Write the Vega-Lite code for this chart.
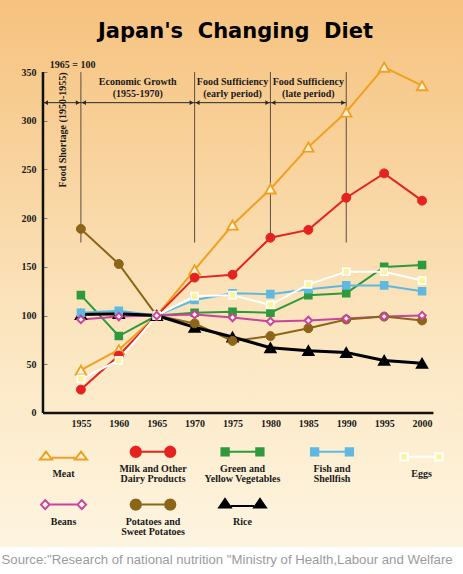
{
  "$schema": "https://vega.github.io/schema/vega-lite/v6.json",
  "width": 463,
  "height": 574,
  "autosize": {"type": "none"},
  "padding": 0,
  "title": {"text": "Japan's\u00a0\u00a0Changing\u00a0\u00a0Diet", "font": "DejaVu Sans", "fontSize": 21, "fontWeight": "bold", "color": "#000000", "anchor": "middle", "frame": "group", "offset": -59, "baseline": "alphabetic", "dx": 4},
  "datasets": {
    "diet": [
      {"food": "Meat", "year": 1955, "value": 44}, {"food": "Meat", "year": 1960, "value": 65}, {"food": "Meat", "year": 1965, "value": 100}, {"food": "Meat", "year": 1970, "value": 147}, {"food": "Meat", "year": 1975, "value": 193}, {"food": "Meat", "year": 1980, "value": 230}, {"food": "Meat", "year": 1985, "value": 273}, {"food": "Meat", "year": 1990, "value": 309}, {"food": "Meat", "year": 1995, "value": 355}, {"food": "Meat", "year": 2000, "value": 336},
      {"food": "Milk and Other Dairy Products", "year": 1955, "value": 24}, {"food": "Milk and Other Dairy Products", "year": 1960, "value": 59}, {"food": "Milk and Other Dairy Products", "year": 1965, "value": 100}, {"food": "Milk and Other Dairy Products", "year": 1970, "value": 139}, {"food": "Milk and Other Dairy Products", "year": 1975, "value": 142}, {"food": "Milk and Other Dairy Products", "year": 1980, "value": 180}, {"food": "Milk and Other Dairy Products", "year": 1985, "value": 188}, {"food": "Milk and Other Dairy Products", "year": 1990, "value": 221}, {"food": "Milk and Other Dairy Products", "year": 1995, "value": 246}, {"food": "Milk and Other Dairy Products", "year": 2000, "value": 218},
      {"food": "Green and Yellow Vegetables", "year": 1955, "value": 121}, {"food": "Green and Yellow Vegetables", "year": 1960, "value": 79}, {"food": "Green and Yellow Vegetables", "year": 1965, "value": 100}, {"food": "Green and Yellow Vegetables", "year": 1970, "value": 103}, {"food": "Green and Yellow Vegetables", "year": 1975, "value": 104}, {"food": "Green and Yellow Vegetables", "year": 1980, "value": 103}, {"food": "Green and Yellow Vegetables", "year": 1985, "value": 121}, {"food": "Green and Yellow Vegetables", "year": 1990, "value": 123}, {"food": "Green and Yellow Vegetables", "year": 1995, "value": 150}, {"food": "Green and Yellow Vegetables", "year": 2000, "value": 152},
      {"food": "Fish and Shellfish", "year": 1955, "value": 103}, {"food": "Fish and Shellfish", "year": 1960, "value": 105}, {"food": "Fish and Shellfish", "year": 1965, "value": 100}, {"food": "Fish and Shellfish", "year": 1970, "value": 116}, {"food": "Fish and Shellfish", "year": 1975, "value": 123}, {"food": "Fish and Shellfish", "year": 1980, "value": 122}, {"food": "Fish and Shellfish", "year": 1985, "value": 127}, {"food": "Fish and Shellfish", "year": 1990, "value": 131}, {"food": "Fish and Shellfish", "year": 1995, "value": 131}, {"food": "Fish and Shellfish", "year": 2000, "value": 125},
      {"food": "Eggs", "year": 1955, "value": 35}, {"food": "Eggs", "year": 1960, "value": 54}, {"food": "Eggs", "year": 1965, "value": 100}, {"food": "Eggs", "year": 1970, "value": 120}, {"food": "Eggs", "year": 1975, "value": 121}, {"food": "Eggs", "year": 1980, "value": 111}, {"food": "Eggs", "year": 1985, "value": 132}, {"food": "Eggs", "year": 1990, "value": 145}, {"food": "Eggs", "year": 1995, "value": 145}, {"food": "Eggs", "year": 2000, "value": 136},
      {"food": "Beans", "year": 1955, "value": 96}, {"food": "Beans", "year": 1960, "value": 99}, {"food": "Beans", "year": 1965, "value": 100}, {"food": "Beans", "year": 1970, "value": 101}, {"food": "Beans", "year": 1975, "value": 98}, {"food": "Beans", "year": 1980, "value": 94}, {"food": "Beans", "year": 1985, "value": 95}, {"food": "Beans", "year": 1990, "value": 97}, {"food": "Beans", "year": 1995, "value": 99}, {"food": "Beans", "year": 2000, "value": 100},
      {"food": "Potatoes and Sweet Potatoes", "year": 1955, "value": 189}, {"food": "Potatoes and Sweet Potatoes", "year": 1960, "value": 153}, {"food": "Potatoes and Sweet Potatoes", "year": 1965, "value": 100}, {"food": "Potatoes and Sweet Potatoes", "year": 1970, "value": 92}, {"food": "Potatoes and Sweet Potatoes", "year": 1975, "value": 74}, {"food": "Potatoes and Sweet Potatoes", "year": 1980, "value": 79}, {"food": "Potatoes and Sweet Potatoes", "year": 1985, "value": 87}, {"food": "Potatoes and Sweet Potatoes", "year": 1990, "value": 96}, {"food": "Potatoes and Sweet Potatoes", "year": 1995, "value": 99}, {"food": "Potatoes and Sweet Potatoes", "year": 2000, "value": 95},
      {"food": "Rice", "year": 1955, "value": 101}, {"food": "Rice", "year": 1960, "value": 102}, {"food": "Rice", "year": 1965, "value": 100}, {"food": "Rice", "year": 1970, "value": 88}, {"food": "Rice", "year": 1975, "value": 78}, {"food": "Rice", "year": 1980, "value": 67}, {"food": "Rice", "year": 1985, "value": 64}, {"food": "Rice", "year": 1990, "value": 62}, {"food": "Rice", "year": 1995, "value": 54}, {"food": "Rice", "year": 2000, "value": 51}
    ],
    "periods": [
      {"start": 1950, "end": 1955, "mid": 1952.6, "name": "Food Shortage (1950-1955)"},
      {"start": 1955, "end": 1970, "mid": 1962.5, "name": "Economic Growth", "sub": "(1955-1970)"},
      {"start": 1970, "end": 1980, "mid": 1975, "name": "Food Sufficiency", "sub": "(early period)"},
      {"start": 1980, "end": 1990, "mid": 1985, "name": "Food Sufficiency", "sub": "(late period)"}
    ]
  },
  "resolve": {"axis": {"x": "independent", "y": "independent"}, "legend": {"fill": "independent", "stroke": "independent", "shape": "independent"}},
  "layer": [
    {
      "data": {"values": [{}]},
      "mark": {"type": "rule", "color": "#111111", "strokeWidth": 2.5},
      "encoding": {
        "x": {"datum": 1950, "type": "quantitative", "scale": {"domain": [1944.33, 2005.4], "nice": false, "zero": false}, "axis": null},
        "y": {"datum": 0, "type": "quantitative", "scale": {"domain": [-165.3, 424], "nice": false, "zero": false}, "axis": null},
        "y2": {"datum": 350}
      }
    },
    {
      "data": {"values": [{}]},
      "mark": {"type": "rule", "color": "#111111", "strokeWidth": 2.5},
      "encoding": {
        "x": {"datum": 1950, "type": "quantitative", "scale": {"domain": [1944.33, 2005.4], "nice": false, "zero": false}, "axis": null},
        "x2": {"datum": 2001.5},
        "y": {"datum": 0, "type": "quantitative", "scale": {"domain": [-165.3, 424], "nice": false, "zero": false}, "axis": null}
      }
    },
    {
      "data": {"name": "periods"},
      "mark": {"type": "rule", "color": "#5e4e3e", "strokeWidth": 1},
      "encoding": {
        "x": {"field": "end", "type": "quantitative", "scale": {"domain": [1944.33, 2005.4], "nice": false, "zero": false}, "axis": null},
        "y": {"datum": 175, "type": "quantitative", "scale": {"domain": [-165.3, 424], "nice": false, "zero": false}, "axis": null},
        "y2": {"datum": 350}
      }
    },
    {
      "data": {"name": "periods"},
      "mark": {"type": "rule", "color": "#2a2a2a", "strokeWidth": 1},
      "encoding": {
        "x": {"field": "start", "type": "quantitative", "scale": {"domain": [1944.33, 2005.4], "nice": false, "zero": false}, "axis": null},
        "x2": {"field": "end"},
        "y": {"datum": 318.6, "type": "quantitative", "scale": {"domain": [-165.3, 424], "nice": false, "zero": false}, "axis": null}
      }
    },
    {
      "data": {"name": "periods"},
      "mark": {"type": "point", "shape": "triangle-left", "filled": true, "size": 22, "color": "#2a2a2a", "opacity": 1},
      "encoding": {
        "x": {"field": "start", "type": "quantitative", "scale": {"domain": [1944.33, 2005.4], "nice": false, "zero": false}, "axis": null},
        "xOffset": {"value": 3},
        "y": {"datum": 318.6, "type": "quantitative", "scale": {"domain": [-165.3, 424], "nice": false, "zero": false}, "axis": null}
      }
    },
    {
      "data": {"name": "periods"},
      "mark": {"type": "point", "shape": "triangle-right", "filled": true, "size": 22, "color": "#2a2a2a", "opacity": 1},
      "encoding": {
        "x": {"field": "end", "type": "quantitative", "scale": {"domain": [1944.33, 2005.4], "nice": false, "zero": false}, "axis": null},
        "xOffset": {"value": -3},
        "y": {"datum": 318.6, "type": "quantitative", "scale": {"domain": [-165.3, 424], "nice": false, "zero": false}, "axis": null}
      }
    },
    {
      "data": {"name": "periods"},
      "transform": [{"filter": "isValid(datum.sub)"}],
      "mark": {"type": "text", "font": "Liberation Serif", "fontSize": 10, "fontWeight": "bold", "color": "#1a1a1a", "align": "center", "baseline": "middle"},
      "encoding": {
        "x": {"field": "mid", "type": "quantitative", "scale": {"domain": [1944.33, 2005.4], "nice": false, "zero": false}, "axis": null},
        "y": {"datum": 340, "type": "quantitative", "scale": {"domain": [-165.3, 424], "nice": false, "zero": false}, "axis": null},
        "text": {"field": "name"}
      }
    },
    {
      "data": {"name": "periods"},
      "transform": [{"filter": "isValid(datum.sub)"}],
      "mark": {"type": "text", "font": "Liberation Serif", "fontSize": 10, "fontWeight": "bold", "color": "#1a1a1a", "align": "center", "baseline": "middle"},
      "encoding": {
        "x": {"field": "mid", "type": "quantitative", "scale": {"domain": [1944.33, 2005.4], "nice": false, "zero": false}, "axis": null},
        "y": {"datum": 328, "type": "quantitative", "scale": {"domain": [-165.3, 424], "nice": false, "zero": false}, "axis": null},
        "text": {"field": "sub"}
      }
    },
    {
      "data": {"name": "periods"},
      "transform": [{"filter": "!isValid(datum.sub)"}],
      "mark": {"type": "text", "font": "Liberation Serif", "fontSize": 10, "fontWeight": "bold", "color": "#1a1a1a", "align": "center", "baseline": "middle", "angle": 270},
      "encoding": {
        "x": {"field": "mid", "type": "quantitative", "scale": {"domain": [1944.33, 2005.4], "nice": false, "zero": false}, "axis": null},
        "y": {"datum": 290.6, "type": "quantitative", "scale": {"domain": [-165.3, 424], "nice": false, "zero": false}, "axis": null},
        "text": {"field": "name"}
      }
    },
    {
      "data": {"values": [{}]},
      "mark": {"type": "text", "font": "Liberation Serif", "fontSize": 10, "fontWeight": "bold", "color": "#1a1a1a", "align": "center", "baseline": "middle"},
      "encoding": {
        "x": {"datum": 1953.9, "type": "quantitative", "scale": {"domain": [1944.33, 2005.4], "nice": false, "zero": false}, "axis": null},
        "y": {"datum": 357, "type": "quantitative", "scale": {"domain": [-165.3, 424], "nice": false, "zero": false}, "axis": null},
        "text": {"value": "1965 = 100"}
      }
    },
    {
      "data": {"name": "diet"},
      "transform": [{"filter": "datum.food != 'Rice'"}],
      "mark": {"type": "line", "strokeWidth": 2},
      "encoding": {
        "x": {"field": "year", "type": "quantitative", "scale": {"domain": [1944.33, 2005.4], "nice": false, "zero": false},
          "axis": {"values": [1955, 1960, 1965, 1970, 1975, 1980, 1985, 1990, 1995, 2000], "format": "d", "offset": -161, "domain": false, "ticks": false, "grid": false, "labelFont": "Liberation Serif", "labelFontSize": 10, "labelFontWeight": "bold", "labelColor": "#1a1a1a", "labelPadding": 5, "labelFlush": false, "labelOverlap": false,
            "title": "Source:\"Research of national nutrition \"Ministry of Health,Labour and Welfare", "titleFont": "Liberation Sans", "titleFontSize": 13.2, "titleFontWeight": "normal", "titleColor": "#9b9b9b", "titleX": 1, "titleY": 146, "titleAlign": "left", "titleBaseline": "middle", "titleAnchor": "start"}},
        "y": {"field": "value", "type": "quantitative", "scale": {"domain": [-165.3, 424], "nice": false, "zero": false},
          "axis": {"values": [0, 50, 100, 150, 200, 250, 300, 350], "offset": -43, "domain": false, "grid": false, "ticks": true, "tickSize": -4, "tickColor": "#8a7a6a", "tickWidth": 1, "labelPadding": 11, "labelFont": "Liberation Serif", "labelFontSize": 10, "labelFontWeight": "bold", "labelColor": "#1a1a1a", "labelFlush": false, "labelOverlap": false, "title": null}},
        "stroke": {"field": "food", "type": "nominal", "legend": null,
          "scale": {"domain": ["Meat", "Milk and Other Dairy Products", "Green and Yellow Vegetables", "Fish and Shellfish", "Eggs", "Beans", "Potatoes and Sweet Potatoes", "Rice"], "range": ["#f0a01e", "#e42320", "#2f9a3c", "#5fb8e0", "#ffffff", "#c8449e", "#8c6518", "#000000"]}}
      }
    },
    {
      "data": {"name": "diet"},
      "transform": [{"filter": "datum.food == 'Rice'"}],
      "mark": {"type": "line", "strokeWidth": 3},
      "encoding": {
        "x": {"field": "year", "type": "quantitative", "scale": {"domain": [1944.33, 2005.4], "nice": false, "zero": false}, "axis": null},
        "y": {"field": "value", "type": "quantitative", "scale": {"domain": [-165.3, 424], "nice": false, "zero": false}, "axis": null},
        "stroke": {"field": "food", "type": "nominal", "legend": null}
      }
    },
    {
      "data": {"name": "diet"},
      "transform": [{"filter": "datum.food == 'Meat' || datum.food == 'Rice'"}],
      "mark": {"type": "point", "shape": "triangle-up", "filled": true, "size": 110, "strokeWidth": 1.8, "opacity": 1},
      "encoding": {
        "x": {"field": "year", "type": "quantitative", "scale": {"domain": [1944.33, 2005.4], "nice": false, "zero": false}, "axis": null},
        "y": {"field": "value", "type": "quantitative", "scale": {"domain": [-165.3, 424], "nice": false, "zero": false}, "axis": null},
        "fill": {"field": "food", "type": "nominal", "legend": null,
          "scale": {"domain": ["Meat", "Milk and Other Dairy Products", "Green and Yellow Vegetables", "Fish and Shellfish", "Eggs", "Beans", "Potatoes and Sweet Potatoes", "Rice"], "range": ["#fff4dc", "#e42320", "#2f9a3c", "#5fb8e0", "#fbf59a", "#fff4e8", "#8c6518", "#000000"]}},
        "stroke": {"field": "food", "type": "nominal", "legend": null}
      }
    },
    {
      "data": {"name": "diet"},
      "transform": [{"filter": "datum.food == 'Milk and Other Dairy Products' || datum.food == 'Potatoes and Sweet Potatoes'"}],
      "mark": {"type": "point", "shape": "circle", "filled": true, "size": 80, "strokeWidth": 1, "opacity": 1},
      "encoding": {
        "x": {"field": "year", "type": "quantitative", "scale": {"domain": [1944.33, 2005.4], "nice": false, "zero": false}, "axis": null},
        "y": {"field": "value", "type": "quantitative", "scale": {"domain": [-165.3, 424], "nice": false, "zero": false}, "axis": null},
        "fill": {"field": "food", "type": "nominal", "legend": null},
        "stroke": {"field": "food", "type": "nominal", "legend": null}
      }
    },
    {
      "data": {"name": "diet"},
      "transform": [{"filter": "datum.food == 'Green and Yellow Vegetables' || datum.food == 'Fish and Shellfish' || datum.food == 'Eggs'"}],
      "mark": {"type": "point", "shape": "square", "filled": true, "size": 50, "strokeWidth": 1.5, "opacity": 1},
      "encoding": {
        "x": {"field": "year", "type": "quantitative", "scale": {"domain": [1944.33, 2005.4], "nice": false, "zero": false}, "axis": null},
        "y": {"field": "value", "type": "quantitative", "scale": {"domain": [-165.3, 424], "nice": false, "zero": false}, "axis": null},
        "fill": {"field": "food", "type": "nominal", "legend": null},
        "stroke": {"field": "food", "type": "nominal", "legend": null}
      }
    },
    {
      "data": {"name": "diet"},
      "transform": [{"filter": "datum.food == 'Beans'"}],
      "mark": {"type": "point", "shape": "diamond", "filled": true, "size": 55, "strokeWidth": 2, "opacity": 1},
      "encoding": {
        "x": {"field": "year", "type": "quantitative", "scale": {"domain": [1944.33, 2005.4], "nice": false, "zero": false}, "axis": null},
        "y": {"field": "value", "type": "quantitative", "scale": {"domain": [-165.3, 424], "nice": false, "zero": false}, "axis": null},
        "fill": {"field": "food", "type": "nominal", "legend": null},
        "stroke": {"field": "food", "type": "nominal", "legend": null}
      }
    },
    {
      "data": {"name": "diet"},
      "transform": [{"filter": "datum.year == 1965"}],
      "mark": {"type": "point", "filled": true, "opacity": 0, "strokeWidth": 2},
      "encoding": {
        "x": {"field": "year", "type": "quantitative", "scale": {"domain": [1944.33, 2005.4], "nice": false, "zero": false}, "axis": null},
        "y": {"field": "value", "type": "quantitative", "scale": {"domain": [-165.3, 424], "nice": false, "zero": false}, "axis": null},
        "shape": {"field": "food", "type": "nominal",
          "scale": {"domain": ["Meat", "Milk and Other Dairy Products", "Green and Yellow Vegetables", "Fish and Shellfish", "Eggs", "Beans", "Potatoes and Sweet Potatoes", "Rice"],
            "range": [
              "M-1,-0.835M1,-0.835M-0.5875,-0.77L-0.4375,-0.965L-0.2875,-0.77Z M0.2875,-0.77L0.4375,-0.965L0.5875,-0.77Z M-0.2875,-0.8125L0.2875,-0.8125",
              "M-1,-0.835M1,-0.835M-0.301,-0.835L-0.318,-0.7705L-0.3655,-0.723L-0.43,-0.706L-0.4945,-0.723L-0.542,-0.7705L-0.559,-0.835L-0.542,-0.8995L-0.4945,-0.947L-0.43,-0.964L-0.3655,-0.947L-0.318,-0.8995Z M0.559,-0.835L0.542,-0.7705L0.4945,-0.723L0.43,-0.706L0.3655,-0.723L0.318,-0.7705L0.301,-0.835L0.318,-0.8995L0.3655,-0.947L0.43,-0.964L0.4945,-0.947L0.542,-0.8995Z M-0.301,-0.835L0.301,-0.835",
              "M-1,-0.835M1,-0.835M-0.5265,-0.9265L-0.3435,-0.9265L-0.3435,-0.7435L-0.5265,-0.7435Z M0.3435,-0.9265L0.5265,-0.9265L0.5265,-0.7435L0.3435,-0.7435Z M-0.3435,-0.835L0.3435,-0.835",
              "M-1,-0.835M1,-0.835M-0.5265,-0.9265L-0.3435,-0.9265L-0.3435,-0.7435L-0.5265,-0.7435Z M0.3435,-0.9265L0.5265,-0.9265L0.5265,-0.7435L0.3435,-0.7435Z M-0.3435,-0.835L0.3435,-0.835",
              "M-1,-0.835M1,-0.835M-0.5265,-0.9265L-0.3435,-0.9265L-0.3435,-0.7435L-0.5265,-0.7435Z M0.3435,-0.9265L0.5265,-0.9265L0.5265,-0.7435L0.3435,-0.7435Z M-0.3435,-0.835L0.3435,-0.835",
              "M-1,-0.835M1,-0.835M-0.5645,-0.835L-0.457,-0.948L-0.3495,-0.835L-0.457,-0.722Z M0.3495,-0.835L0.457,-0.948L0.5645,-0.835L0.457,-0.722Z M-0.3495,-0.835L0.3495,-0.835",
              "M-1,-0.835M1,-0.835M-0.301,-0.835L-0.318,-0.7705L-0.3655,-0.723L-0.43,-0.706L-0.4945,-0.723L-0.542,-0.7705L-0.559,-0.835L-0.542,-0.8995L-0.4945,-0.947L-0.43,-0.964L-0.3655,-0.947L-0.318,-0.8995Z M0.559,-0.835L0.542,-0.7705L0.4945,-0.723L0.43,-0.706L0.3655,-0.723L0.318,-0.7705L0.301,-0.835L0.318,-0.8995L0.3655,-0.947L0.43,-0.964L0.4945,-0.947L0.542,-0.8995Z M-0.301,-0.835L0.301,-0.835",
              "M-1,-0.835M1,-0.835M-0.5825,-0.76L-0.4375,-0.975L-0.2925,-0.76Z M0.2925,-0.76L0.4375,-0.975L0.5825,-0.76Z M-0.2925,-0.8025L0.2925,-0.8025"
            ]},
          "legend": {"title": null, "orient": "none", "legendX": 22.5, "legendY": 444, "direction": "horizontal", "columns": 5, "padding": 0, "symbolSize": 6400, "symbolStrokeWidth": 2, "symbolOpacity": 1, "labelFont": "Liberation Serif", "labelFontSize": 10, "labelFontWeight": "bold", "labelColor": "#1a1a1a", "labelAlign": "center", "labelBaseline": "top", "labelLimit": 300, "columnPadding": 1.5, "rowPadding": 11, "gridAlign": "all",
            "labelExpr": "datum.label == 'Milk and Other Dairy Products' ? ['Milk and Other', 'Dairy Products'] : datum.label == 'Green and Yellow Vegetables' ? ['Green and', 'Yellow Vegetables'] : datum.label == 'Fish and Shellfish' ? ['Fish and', 'Shellfish'] : datum.label == 'Potatoes and Sweet Potatoes' ? ['Potatoes and', 'Sweet Potatoes'] : datum.label",
            "encode": {"labels": {"update": {"x": {"signal": "datum.offset * 0.5"}, "dy": {"value": -21.4}, "lineHeight": {"value": 10}}}, "symbols": {"update": {"opacity": {"value": 1}}}}}},
        "fill": {"field": "food", "type": "nominal",
          "legend": {"title": null, "orient": "none", "legendX": 22.5, "legendY": 444, "direction": "horizontal", "columns": 5, "padding": 0, "symbolSize": 6400, "symbolStrokeWidth": 2, "symbolOpacity": 1, "labelFont": "Liberation Serif", "labelFontSize": 10, "labelFontWeight": "bold", "labelColor": "#1a1a1a", "labelAlign": "center", "labelBaseline": "top", "labelLimit": 300, "columnPadding": 1.5, "rowPadding": 11, "gridAlign": "all",
            "labelExpr": "datum.label == 'Milk and Other Dairy Products' ? ['Milk and Other', 'Dairy Products'] : datum.label == 'Green and Yellow Vegetables' ? ['Green and', 'Yellow Vegetables'] : datum.label == 'Fish and Shellfish' ? ['Fish and', 'Shellfish'] : datum.label == 'Potatoes and Sweet Potatoes' ? ['Potatoes and', 'Sweet Potatoes'] : datum.label",
            "encode": {"labels": {"update": {"x": {"signal": "datum.offset * 0.5"}, "dy": {"value": -21.4}, "lineHeight": {"value": 10}}}, "symbols": {"update": {"opacity": {"value": 1}}}}}},
        "stroke": {"field": "food", "type": "nominal",
          "legend": {"title": null, "orient": "none", "legendX": 22.5, "legendY": 444, "direction": "horizontal", "columns": 5, "padding": 0, "symbolSize": 6400, "symbolStrokeWidth": 2, "symbolOpacity": 1, "labelFont": "Liberation Serif", "labelFontSize": 10, "labelFontWeight": "bold", "labelColor": "#1a1a1a", "labelAlign": "center", "labelBaseline": "top", "labelLimit": 300, "columnPadding": 1.5, "rowPadding": 11, "gridAlign": "all",
            "labelExpr": "datum.label == 'Milk and Other Dairy Products' ? ['Milk and Other', 'Dairy Products'] : datum.label == 'Green and Yellow Vegetables' ? ['Green and', 'Yellow Vegetables'] : datum.label == 'Fish and Shellfish' ? ['Fish and', 'Shellfish'] : datum.label == 'Potatoes and Sweet Potatoes' ? ['Potatoes and', 'Sweet Potatoes'] : datum.label",
            "encode": {"labels": {"update": {"x": {"signal": "datum.offset * 0.5"}, "dy": {"value": -21.4}, "lineHeight": {"value": 10}}}, "symbols": {"update": {"opacity": {"value": 1}}}}}}
      }
    }
  ],
  "config": {
    "view": {"stroke": null, "fill": {"gradient": "linear", "x1": 0, "y1": 0, "x2": 0, "y2": 1, "stops": [{"offset": 0, "color": "#f6c27e"}, {"offset": 0.25, "color": "#f8d19a"}, {"offset": 0.55, "color": "#fbe4bd"}, {"offset": 0.8, "color": "#fdefd3"}, {"offset": 0.952, "color": "#fdf4e0"}, {"offset": 0.954, "color": "#ffffff"}, {"offset": 1, "color": "#ffffff"}]}}
  }
}
